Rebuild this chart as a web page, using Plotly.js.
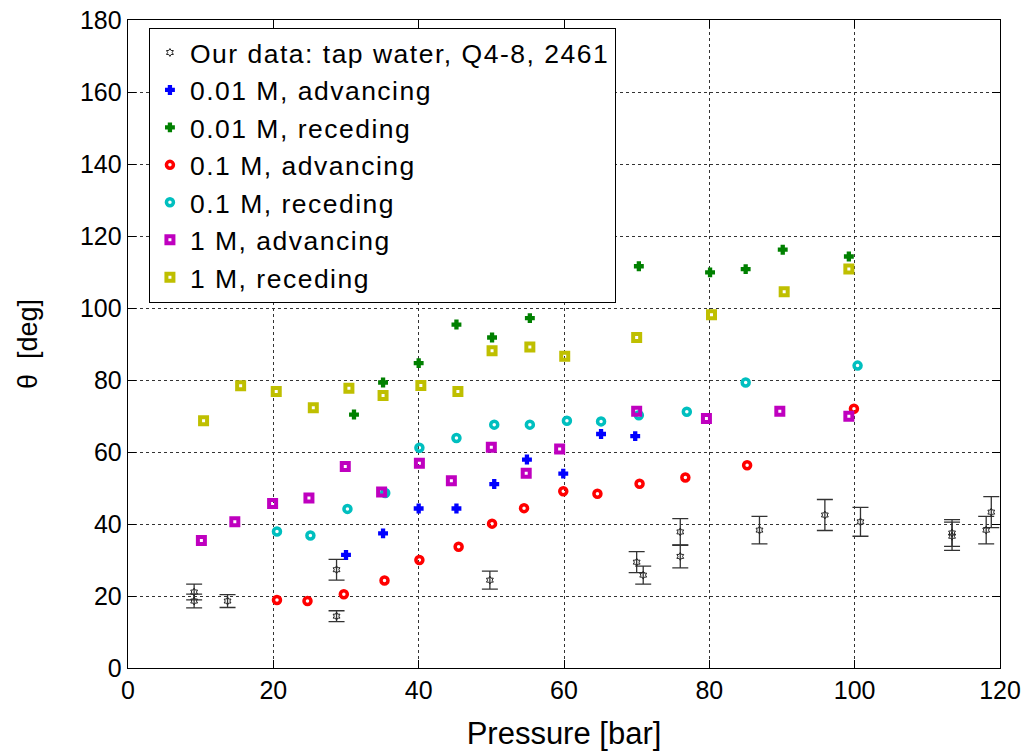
<!DOCTYPE html>
<html>
<head>
<meta charset="utf-8">
<script src="https://cdn.plot.ly/plotly-3.0.1.min.js"></script>
<style>
html,body{margin:0;padding:0;background:#fff;}
#chart{width:1026px;height:753px;}
.legendtext{letter-spacing:1.5px;}
</style>
</head>
<body>
<div id="chart"></div>
<script>
// Our data: tap water
const oursX = [9.1, 9.1, 13.7, 28.7, 28.7, 49.8, 70.0, 70.9, 76.0, 76.0, 86.9, 95.9, 100.8, 113.4, 113.4, 118.1, 118.8];
const oursY = [21.1, 18.6, 18.6, 27.3, 14.4, 24.4, 29.4, 25.8, 37.8, 31.0, 38.3, 42.5, 40.6, 37.5, 36.6, 38.3, 43.3];
const oursErr = [2.2, 1.9, 1.8, 2.9, 1.5, 2.5, 2.9, 2.5, 3.7, 3.2, 3.8, 4.3, 4.0, 3.7, 3.9, 3.8, 4.3];

const adv001X = [30.0, 35.1, 40.0, 45.2, 50.4, 54.9, 59.9, 65.1, 69.8];
const adv001Y = [31.4, 37.4, 44.3, 44.3, 51.1, 57.9, 54.0, 65.0, 64.4];

const rec001X = [31.1, 35.1, 40.0, 45.2, 50.1, 55.3, 70.3, 80.1, 85.0, 90.1, 99.2];
const rec001Y = [70.4, 79.3, 84.7, 95.4, 91.8, 97.2, 111.6, 109.9, 110.8, 116.2, 114.3];

const adv01X = [20.5, 24.7, 29.7, 35.3, 40.1, 45.5, 50.1, 54.5, 59.9, 64.6, 70.4, 76.7, 85.2, 99.9];
const adv01Y = [18.9, 18.6, 20.5, 24.3, 30.0, 33.7, 40.1, 44.4, 49.1, 48.4, 51.2, 52.9, 56.3, 72.0];

const rec01X = [20.5, 25.1, 30.2, 35.4, 40.1, 45.2, 50.4, 55.3, 60.4, 65.1, 70.3, 76.9, 85.0, 100.4];
const rec01Y = [37.9, 36.8, 44.2, 48.6, 61.2, 63.9, 67.6, 67.6, 68.7, 68.5, 70.2, 71.2, 79.3, 84.0];

const adv1X = [10.1, 14.7, 19.9, 24.9, 29.9, 34.9, 40.1, 44.5, 50.0, 54.8, 59.4, 70.0, 79.6, 89.7, 99.2];
const adv1Y = [35.4, 40.6, 45.7, 47.2, 56.0, 48.9, 56.9, 52.0, 61.3, 54.1, 60.8, 71.3, 69.3, 71.3, 69.9];

const rec1X = [10.4, 15.5, 20.4, 25.5, 30.4, 35.1, 40.3, 45.4, 50.1, 55.3, 60.1, 70.0, 80.3, 90.3, 99.2];
const rec1Y = [68.7, 78.4, 76.8, 72.3, 77.7, 75.7, 78.5, 76.8, 88.1, 89.2, 86.6, 91.8, 98.1, 104.5, 110.8];

const names = ["Our data: tap water, Q4-8, 2461", "0.01 M, advancing", "0.01 M, receding",
  "0.1 M, advancing", "0.1 M, receding", "1 M, advancing", "1 M, receding"];
const xTicks = [0, 20, 40, 60, 80, 100, 120];
const yTicks = [0, 20, 40, 60, 80, 100, 120, 140, 160, 180];

const traces = [
  {x: oursX, y: oursY, name: names[0], type: 'scatter', mode: 'markers',
   marker: {symbol: 'hexagram-open', size: 6, color: '#222', line: {width: 1, color: '#222'}},
   error_y: {type: 'data', array: oursErr, visible: true, color: '#333', thickness: 1.3, width: 8}},
  {x: adv001X, y: adv001Y, name: names[1], type: 'scatter', mode: 'markers',
   marker: {symbol: 'cross', size: 7, color: '#0000ff', line: {width: 1.5, color: '#0000ff'}}},
  {x: rec001X, y: rec001Y, name: names[2], type: 'scatter', mode: 'markers',
   marker: {symbol: 'cross', size: 7, color: '#008000', line: {width: 1.5, color: '#008000'}}},
  {x: adv01X, y: adv01Y, name: names[3], type: 'scatter', mode: 'markers',
   marker: {symbol: 'circle-open', size: 7, color: '#ff0000', line: {width: 3.5, color: '#ff0000'}}},
  {x: rec01X, y: rec01Y, name: names[4], type: 'scatter', mode: 'markers',
   marker: {symbol: 'circle-open', size: 7, color: '#00bfbf', line: {width: 3.5, color: '#00bfbf'}}},
  {x: adv1X, y: adv1Y, name: names[5], type: 'scatter', mode: 'markers',
   marker: {symbol: 'square-open', size: 7, color: '#bf00bf', line: {width: 4, color: '#bf00bf'}}},
  {x: rec1X, y: rec1Y, name: names[6], type: 'scatter', mode: 'markers',
   marker: {symbol: 'square-open', size: 7, color: '#bfbf00', line: {width: 4, color: '#bfbf00'}}}
];

const axisCommon = {
  showline: true, linecolor: '#000', linewidth: 1.3, mirror: 'ticks',
  ticks: 'inside', ticklen: 8, tickcolor: '#000', tickwidth: 1,
  showgrid: true, gridcolor: '#333', griddash: '3px,3px', gridwidth: 1,
  zeroline: false, tickfont: {family: 'Arial, "Liberation Sans", sans-serif', size: 25, color: '#000'}
};

const layout = {
  width: 1026, height: 753,
  margin: {l: 128, r: 26, t: 20, b: 85},
  paper_bgcolor: '#fff', plot_bgcolor: '#fff',
  showlegend: true,
  xaxis: Object.assign({}, axisCommon, {
    range: [0, 120], tickvals: xTicks, ticktext: xTicks.map(String),
    title: {text: 'Pressure [bar]', font: {family: 'Arial, "Liberation Sans", sans-serif', size: 31, color: '#000'}, standoff: 19}
  }),
  yaxis: Object.assign({}, axisCommon, {
    range: [0, 180], tickvals: yTicks, ticktext: yTicks.map(String),
    title: {text: 'θ  [deg]', font: {family: 'Arial, "Liberation Sans", sans-serif', size: 27, color: '#000'}, standoff: 34}
  }),
  legend: {
    x: 0.024, y: 0.988, xanchor: 'left', yanchor: 'top',
    bgcolor: '#fff', bordercolor: '#000', borderwidth: 1,
    font: {family: 'Arial, "Liberation Sans", sans-serif', size: 26.5, color: '#000'},
    tracegroupgap: 0, itemsizing: 'trace'
  }
};

Plotly.newPlot('chart', traces, layout, {displayModeBar: false, staticPlot: true});
</script>
</body>
</html>
